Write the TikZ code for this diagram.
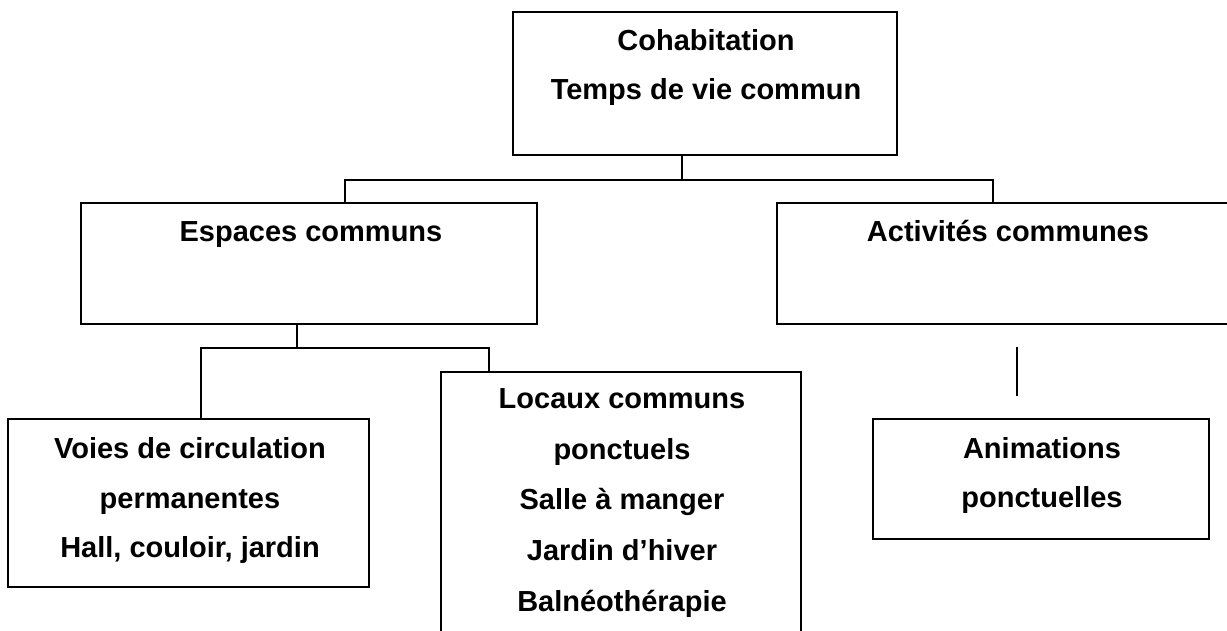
\documentclass[tikz,border=0pt]{standalone}
\usepackage{fontspec}
\setmainfont{Liberation Sans}
\begin{document}
\begin{tikzpicture}[x=1pt,y=-1pt,
  box/.style={draw=black,line width=1.6pt,rectangle,inner sep=0pt,outer sep=0pt,anchor=center},
  conn/.style={draw=black,line width=1.6pt},
  lbl/.style={anchor=base,inner sep=0pt,font=\fontsize{29}{29}\selectfont\bfseries}]
\useasboundingbox (0,0) rectangle (1227,631);
\clip (0,0) rectangle (1227,631);
% boxes
\node[box,minimum width=384pt,minimum height=143pt] (top) at (705,83.5) {};
\node[box,minimum width=456pt,minimum height=121pt] (esp) at (309,263.5) {};
\node[box,minimum width=462pt,minimum height=121pt] (act) at (1008,263.5) {};
\node[box,minimum width=361pt,minimum height=168pt] (voies) at (188.5,503) {};
\node[box,minimum width=360pt,minimum height=300pt] (loc) at (621,522) {};
\node[box,minimum width=336pt,minimum height=120pt] (anim) at (1041,479) {};
% texts
\node[lbl] (t1a) at (706,51) {Cohabitation};
\node[lbl] (t1b) at (706,100) {Temps de vie commun};
\node[lbl] (t2) at (311,242) {Espaces communs};
\node[lbl] (t3) at (1008,242) {Activités communes};
\node[lbl] (t4a) at (190,458) {Voies de circulation};
\node[lbl] (t4b) at (190,508) {permanentes};
\node[lbl] (t4c) at (190,557) {Hall, couloir, jardin};
\node[lbl] (t5a) at (622,408) {Locaux communs};
\node[lbl] (t5b) at (622,459) {ponctuels};
\node[lbl] (t5c) at (622,509) {Salle à manger};
\node[lbl] (t5d) at (622,560) {Jardin d’hiver};
\node[lbl] (t5e) at (622,611) {Balnéothérapie};
\node[lbl] (t6a) at (1042,458) {Animations};
\node[lbl] (t6b) at (1042,507) {ponctuelles};
% connectors
\coordinate (tbar) at (682,180);
\coordinate (busL) at (345,180);
\coordinate (busR) at (993,180);
\draw[conn] (top.south -| tbar) -- (tbar);
\draw[conn] (esp.north -| busL) -- (busL) -- (busR) -- (act.north -| busR);
\coordinate (ebar) at (297,348);
\coordinate (bus2L) at (201,348);
\coordinate (bus2R) at (489,348);
\draw[conn] (esp.south -| ebar) -- (ebar);
\draw[conn] (voies.north -| bus2L) -- (bus2L) -- (bus2R) -- (loc.north -| bus2R);
\coordinate (isoA) at (1017,347);
\coordinate (isoB) at (1017,396);
\draw[conn] (isoA) -- (isoB);
\end{tikzpicture}
\end{document}
